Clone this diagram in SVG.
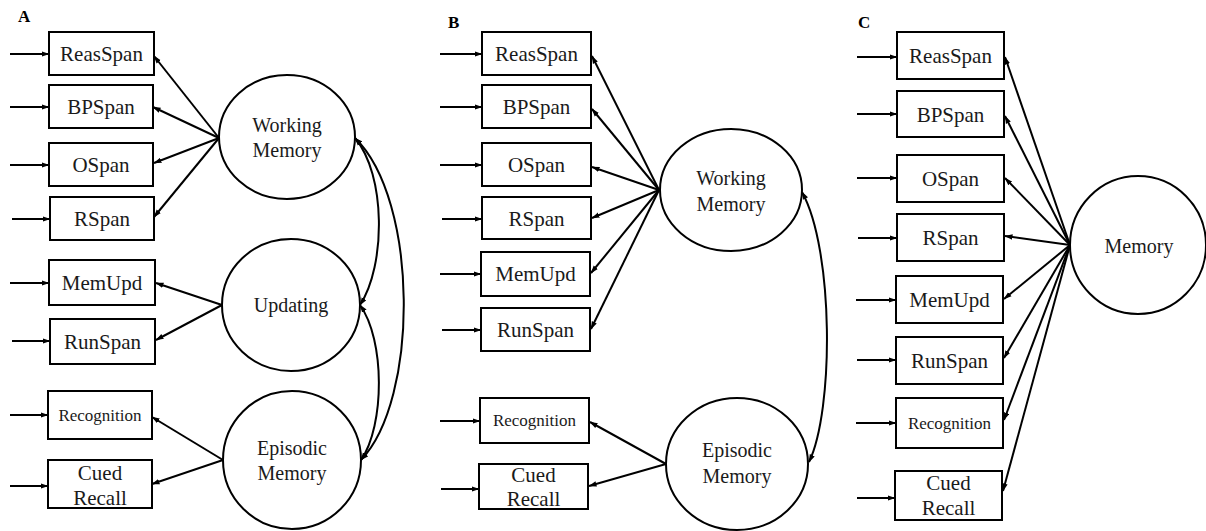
<svg xmlns="http://www.w3.org/2000/svg" width="1206" height="531" viewBox="0 0 1206 531">
<defs>
<marker id="ah" viewBox="0 0 8 6" refX="7.5" refY="3" markerWidth="8" markerHeight="6" markerUnits="userSpaceOnUse" orient="auto-start-reverse">
<path d="M0,0.3 L8,3 L0,5.7 z" fill="#000"/>
</marker>
<style>
.box{fill:#fff;stroke:#000;stroke-width:2}
.lat{fill:#fff;stroke:#000;stroke-width:2}
.t{font-family:"Liberation Serif","Times New Roman",serif;font-size:21px;fill:#1a1a1a;text-anchor:middle}
.ts{font-family:"Liberation Serif","Times New Roman",serif;font-size:17px;fill:#1a1a1a;text-anchor:middle}
.tl{font-family:"Liberation Serif","Times New Roman",serif;font-size:20px;fill:#1a1a1a;text-anchor:middle}
.lab{font-family:"Liberation Serif","Times New Roman",serif;font-size:17px;font-weight:bold;fill:#000}
.c line,.c path{stroke:#000;stroke-width:2;fill:none;marker-end:url(#ah)}
.c path.d{marker-start:url(#ah)}
</style>
</defs>
<rect width="1206" height="531" fill="#fff"/>

<text class="lab" x="18" y="22">A</text>
<text class="lab" x="448" y="28">B</text>
<text class="lab" x="858" y="28">C</text>

<g id="connectors" class="c">
<!-- Panel A inputs -->
<line x1="10" y1="54" x2="49" y2="54"/>
<line x1="10" y1="107" x2="49" y2="107"/>
<line x1="10" y1="165" x2="49" y2="165"/>
<line x1="12" y1="219" x2="50" y2="219"/>
<line x1="10" y1="283" x2="49" y2="283"/>
<line x1="12" y1="341" x2="50" y2="341"/>
<line x1="10" y1="415" x2="48" y2="415"/>
<line x1="10" y1="486" x2="48" y2="486"/>
<!-- Panel A loadings -->
<line x1="219" y1="138" x2="154" y2="56"/>
<line x1="219" y1="138" x2="153" y2="107"/>
<line x1="219" y1="138" x2="154" y2="163"/>
<line x1="219" y1="138" x2="154" y2="217"/>
<line x1="222" y1="305" x2="156" y2="283"/>
<line x1="222" y1="305" x2="156" y2="340"/>
<line x1="223" y1="460" x2="152" y2="417"/>
<line x1="223" y1="460" x2="152" y2="484"/>
<!-- Panel A correlations -->
<path class="d" d="M355,138 C386,175 386,265 360,305"/>
<path class="d" d="M360,305 C385,340 385,425 361,460"/>
<path class="d" d="M355,138 C419,200 419,400 361,460"/>

<!-- Panel B inputs -->
<line x1="440" y1="54" x2="482" y2="54"/>
<line x1="440" y1="107" x2="482" y2="107"/>
<line x1="440" y1="165" x2="482" y2="165"/>
<line x1="442" y1="219" x2="482" y2="219"/>
<line x1="440" y1="274" x2="481" y2="274"/>
<line x1="442" y1="330" x2="481" y2="330"/>
<line x1="440" y1="421" x2="480" y2="421"/>
<line x1="441" y1="489" x2="479" y2="489"/>
<!-- Panel B loadings -->
<line x1="659" y1="190" x2="592" y2="56"/>
<line x1="659" y1="190" x2="592" y2="109"/>
<line x1="659" y1="190" x2="592" y2="167"/>
<line x1="659" y1="190" x2="592" y2="218"/>
<line x1="659" y1="190" x2="591" y2="273"/>
<line x1="659" y1="190" x2="591" y2="329"/>
<line x1="666" y1="464" x2="590" y2="422"/>
<line x1="666" y1="464" x2="589" y2="486"/>
<!-- Panel B correlation -->
<path class="d" d="M802,192 C834,250 834,410 809,462"/>

<!-- Panel C inputs -->
<line x1="857" y1="57" x2="897" y2="57"/>
<line x1="857" y1="114" x2="897" y2="114"/>
<line x1="857" y1="178" x2="897" y2="178"/>
<line x1="858" y1="238" x2="897" y2="238"/>
<line x1="856" y1="300" x2="896" y2="300"/>
<line x1="857" y1="360" x2="896" y2="360"/>
<line x1="856" y1="423" x2="896" y2="423"/>
<line x1="857" y1="498" x2="895" y2="498"/>
<!-- Panel C loadings -->
<line x1="1070" y1="245" x2="1005" y2="57"/>
<line x1="1070" y1="245" x2="1005" y2="116"/>
<line x1="1070" y1="245" x2="1005" y2="178"/>
<line x1="1070" y1="245" x2="1005" y2="236"/>
<line x1="1070" y1="245" x2="1004" y2="299"/>
<line x1="1070" y1="245" x2="1004" y2="358"/>
<line x1="1070" y1="245" x2="1004" y2="420"/>
<line x1="1070" y1="245" x2="1003" y2="491"/>
</g>

<!-- Panel A nodes -->
<g id="A-ReasSpan"><rect class="box" x="49" y="32" width="105" height="43"/><text class="t" x="101.5" y="61">ReasSpan</text></g>
<g id="A-BPSpan"><rect class="box" x="49" y="85" width="104" height="43"/><text class="t" x="101" y="114">BPSpan</text></g>
<g id="A-OSpan"><rect class="box" x="49" y="143" width="104" height="43"/><text class="t" x="101" y="172">OSpan</text></g>
<g id="A-RSpan"><rect class="box" x="50" y="197" width="104" height="43"/><text class="t" x="102" y="226">RSpan</text></g>
<g id="A-MemUpd"><rect class="box" x="49" y="260" width="106" height="45"/><text class="t" x="102" y="290">MemUpd</text></g>
<g id="A-RunSpan"><rect class="box" x="50" y="319" width="105" height="45"/><text class="t" x="102.5" y="349">RunSpan</text></g>
<g id="A-Recognition"><rect class="box" x="48" y="391" width="104" height="48"/><text class="ts" x="100" y="421">Recognition</text></g>
<g id="A-CuedRecall"><rect class="box" x="48" y="460" width="104" height="48"/><text class="t" x="100" y="480">Cued</text><text class="t" x="100" y="505">Recall</text></g>
<g id="A-WorkingMemory"><ellipse class="lat" cx="287" cy="137" rx="68" ry="62"/><text class="tl" x="287" y="132">Working</text><text class="tl" x="287" y="157">Memory</text></g>
<g id="A-Updating"><ellipse class="lat" cx="291" cy="305" rx="69" ry="66"/><text class="tl" x="291" y="312">Updating</text></g>
<g id="A-EpisodicMemory"><ellipse class="lat" cx="292" cy="460" rx="69" ry="69"/><text class="tl" x="292" y="455">Episodic</text><text class="tl" x="292" y="480">Memory</text></g>

<!-- Panel B nodes -->
<g id="B-ReasSpan"><rect class="box" x="482" y="32" width="109" height="43"/><text class="t" x="536.5" y="61">ReasSpan</text></g>
<g id="B-BPSpan"><rect class="box" x="482" y="85" width="109" height="43"/><text class="t" x="536.5" y="114">BPSpan</text></g>
<g id="B-OSpan"><rect class="box" x="482" y="143" width="109" height="43"/><text class="t" x="536.5" y="172">OSpan</text></g>
<g id="B-RSpan"><rect class="box" x="482" y="197" width="109" height="42"/><text class="t" x="536.5" y="226">RSpan</text></g>
<g id="B-MemUpd"><rect class="box" x="481" y="252" width="109" height="44"/><text class="t" x="535.5" y="281">MemUpd</text></g>
<g id="B-RunSpan"><rect class="box" x="481" y="308" width="109" height="43"/><text class="t" x="535.5" y="337">RunSpan</text></g>
<g id="B-Recognition"><rect class="box" x="480" y="398" width="109" height="45"/><text class="ts" x="534.5" y="426">Recognition</text></g>
<g id="B-CuedRecall"><rect class="box" x="479" y="464" width="109" height="45"/><text class="t" x="533.5" y="482">Cued</text><text class="t" x="533.5" y="506">Recall</text></g>
<g id="B-WorkingMemory"><ellipse class="lat" cx="731" cy="190" rx="71" ry="61"/><text class="tl" x="731" y="185">Working</text><text class="tl" x="731" y="211">Memory</text></g>
<g id="B-EpisodicMemory"><ellipse class="lat" cx="737" cy="464" rx="71" ry="66"/><text class="tl" x="737" y="457">Episodic</text><text class="tl" x="737" y="483">Memory</text></g>

<!-- Panel C nodes -->
<g id="C-ReasSpan"><rect class="box" x="897" y="32" width="107" height="47"/><text class="t" x="950.5" y="63">ReasSpan</text></g>
<g id="C-BPSpan"><rect class="box" x="897" y="91" width="107" height="46"/><text class="t" x="950.5" y="122">BPSpan</text></g>
<g id="C-OSpan"><rect class="box" x="897" y="155" width="107" height="47"/><text class="t" x="950.5" y="186">OSpan</text></g>
<g id="C-RSpan"><rect class="box" x="897" y="214" width="107" height="47"/><text class="t" x="950.5" y="245">RSpan</text></g>
<g id="C-MemUpd"><rect class="box" x="896" y="276" width="107" height="47"/><text class="t" x="949.5" y="307">MemUpd</text></g>
<g id="C-RunSpan"><rect class="box" x="896" y="337" width="107" height="47"/><text class="t" x="949.5" y="368">RunSpan</text></g>
<g id="C-Recognition"><rect class="box" x="896" y="398" width="107" height="50"/><text class="ts" x="949.5" y="429">Recognition</text></g>
<g id="C-CuedRecall"><rect class="box" x="895" y="471" width="107" height="49"/><text class="t" x="948.5" y="490">Cued</text><text class="t" x="948.5" y="515">Recall</text></g>
<g id="C-Memory"><ellipse class="lat" cx="1138" cy="245" rx="68" ry="69"/><text class="tl" x="1139" y="253">Memory</text></g>
</svg>
